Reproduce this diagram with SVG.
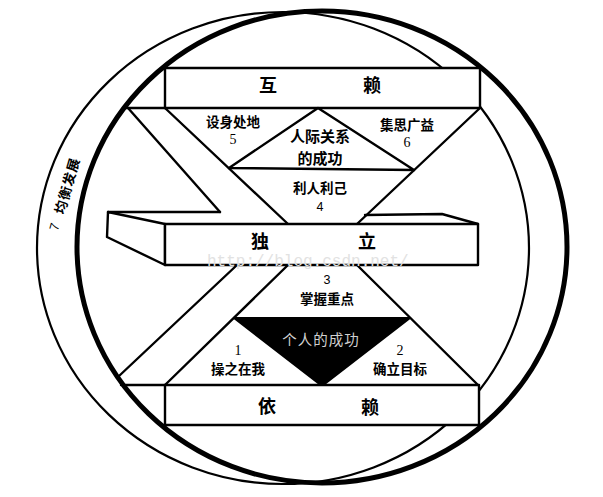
<svg xmlns="http://www.w3.org/2000/svg" width="603" height="497" viewBox="0 0 603 497">
<style>
.ln{fill:none;stroke:#000;stroke-width:2.4;stroke-linejoin:round;stroke-linecap:round}
.sh{fill:#fff;stroke:#000;stroke-width:2.4;stroke-linejoin:round}
.cj{font-family:"Noto Sans CJK SC","Noto Sans",sans-serif;font-weight:bold;fill:#000;text-anchor:middle;dominant-baseline:central}
.big{font-size:18px}
.lb{font-size:13.5px}
.num{font-family:"Liberation Serif",serif;font-size:14px;fill:#000;text-anchor:middle;dominant-baseline:central}
.nums{font-family:"Liberation Sans",sans-serif;font-size:12.5px;fill:#000;text-anchor:middle;dominant-baseline:central}
</style>
<rect width="603" height="497" fill="#fff"/>
<g id="circle-outer-thin"><ellipse cx="283" cy="248" rx="246" ry="236" fill="none" stroke="#000" stroke-width="2.2"/></g>
<g id="circle-thick"><ellipse cx="322" cy="247" rx="245" ry="236" fill="none" stroke="#000" stroke-width="5"/></g>

<g id="connectors">
<path class="ln" d="M124,108 H165"/>
<path class="ln" d="M128,108 L220,212"/>
<path class="ln" d="M165,108 L288,224"/>
<path class="ln" d="M480,108 L357,224"/>
<path class="ln" d="M121,385 H165"/>
<path class="ln" d="M237,265 L119,376"/>
<path class="ln" d="M288,265 L165,385"/>
<path class="ln" d="M357,265 L478,385"/>
</g>

<g id="bar-interdependence">
<rect class="sh" x="165" y="68" width="315" height="40"/>
<text class="cj big" x="268" y="84">互</text>
<text class="cj big" x="372" y="84">赖</text>
</g>

<g id="habit5"><text class="cj lb" x="233" y="121">设身处地</text><text class="num" x="233" y="139">5</text></g>
<g id="habit6"><text class="cj lb" x="407" y="124">集思广益</text><text class="num" x="407" y="142">6</text></g>
<g id="public-victory">
<path class="ln" d="M229,168 L318,108 L414,170 Z"/>
<text class="cj" style="font-size:15px" x="320" y="135">人际关系</text>
<text class="cj" style="font-size:15px" x="320" y="157">的成功</text>
</g>
<g id="habit4"><text class="cj lb" x="320" y="187">利人利己</text><text class="nums" x="320" y="207">4</text></g>

<g id="bar-independence">
<polygon class="sh" points="108,212 165,224 165,265 107,237"/>
<path class="ln" d="M108,212 L220,212"/>
<path class="ln" d="M365,215 L442,214 L478,224"/>
<rect class="sh" x="165" y="224" width="313" height="41"/>
<text class="cj big" x="260" y="240">独</text>
<text class="cj big" x="367" y="240">立</text>
</g>
<text x="207" y="266" font-family="Liberation Mono,monospace" font-size="16" fill="#e2e2e2">http://blog.csdn.net/</text>

<g id="habit3"><text class="nums" x="327" y="280">3</text><text class="cj lb" x="327" y="298">掌握重点</text></g>
<g id="private-victory">
<polygon points="234,318 410,318 322,386" fill="#000" stroke="#000" stroke-width="2" stroke-linejoin="round"/>
<text class="cj" style="font-size:14.5px;font-weight:normal;fill:#d0d0d0;letter-spacing:1px" x="321" y="338">个人的成功</text>
</g>
<g id="habit1"><text class="num" x="238" y="350">1</text><text class="cj lb" x="238" y="368">操之在我</text></g>
<g id="habit2"><text class="num" x="400" y="350">2</text><text class="cj lb" x="400" y="368">确立目标</text></g>

<g id="bar-dependence">
<rect class="sh" x="165" y="385" width="314" height="40"/>
<text class="cj big" x="267" y="405">依</text>
<text class="cj big" x="370" y="406">赖</text>
</g>

<g id="habit7" transform="translate(63.5,195) rotate(-74)">
<text class="nums" x="-33" y="0" style="font-size:13px">7</text>
<text class="cj" x="10" y="0" style="font-size:13.5px;letter-spacing:1px">均衡发展</text>
</g>
</svg>
